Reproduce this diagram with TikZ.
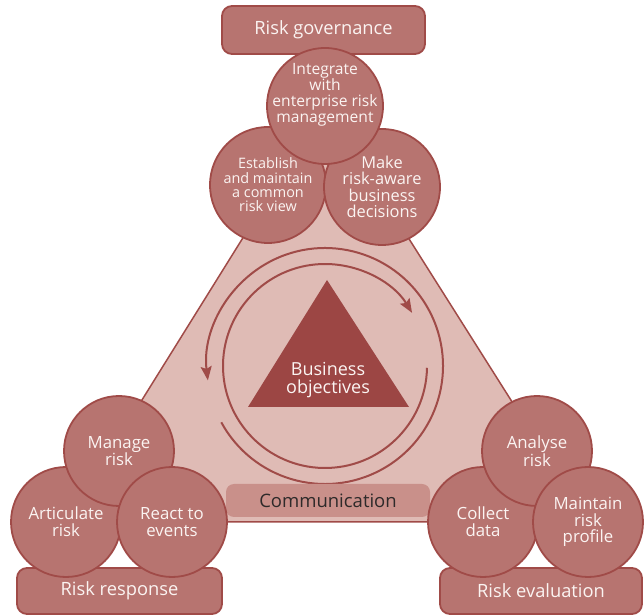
\documentclass[tikz,border=0pt]{standalone}
\usepackage{fontspec}
\setmainfont{Open Sans}
\usetikzlibrary{arrows.meta}
\definecolor{RkEdge}{HTML}{A04B48}
\definecolor{RkBubble}{HTML}{B77470}
\definecolor{RkField}{HTML}{DFBBB5}
\definecolor{RkCore}{HTML}{9C4644}
\definecolor{RkComm}{HTML}{C9908A}
\definecolor{RkText}{HTML}{FBF4F2}
\definecolor{RkDark}{HTML}{2E2A2A}

\tikzset{
  bubble/.style={circle,draw=RkEdge,fill=RkBubble,line width=1.8pt,inner sep=0pt,
    text=RkText,align=center},
  bigbubble/.style={bubble,minimum size=116pt},
  smallbubble/.style={bubble,minimum size=110pt,font=\fontsize{16.8}{16.7}\selectfont},
  stagebox/.style={draw=RkEdge,fill=RkBubble,line width=1.8pt,rounded corners=10pt,
    inner sep=0pt,minimum width=203pt,minimum height=46pt,text=RkText,
    font=\fontsize{18.3}{20}\selectfont},
  loopline/.style={draw=RkEdge,line width=2pt,
    -{Stealth[length=14pt,width=11pt,inset=2.5pt]}}
}

\begin{document}
\begin{tikzpicture}[x=1pt,y=1pt]
\path[use as bounding box] (0,0) rectangle (644,615);
% centres of the bubbles
\coordinate (hub) at (325,249);
\coordinate (pInteg) at (325,509);
\coordinate (pEstab) at (268,430);
\coordinate (pMake) at (382,430);
\coordinate (pManage) at (119,164);
\coordinate (pArtic) at (66,93);
\coordinate (pReact) at (172,93);
\coordinate (pAnalyse) at (537,164);
\coordinate (pCollect) at (483,93);
\coordinate (pMaint) at (588,93);

% risk field
\draw[RkEdge,fill=RkField,line width=1.5pt,line join=round]
  (pInteg) -- (pArtic) -- (pMaint) -- cycle;

% loops round the objectives
\draw[loopline] ([shift={(208.5:118)}]hub) arc[start angle=208.5,end angle=547,radius=118];
\draw[loopline] ([shift={(-1:102)}]hub) arc[start angle=-1,end angle=-328.6,radius=102];

% business objectives
\fill[RkCore] (327,335) -- (248,208) -- (409,208) -- cycle;
\node[text=RkText,align=center,font=\fontsize{18}{18}\selectfont] (objtxt) at (328,235)
  {Business\\objectives};

% communication
\node[fill=RkComm,rounded corners=8pt,minimum width=204pt,minimum height=33pt,inner sep=0pt,
  text=RkDark,font=\fontsize{18.5}{20}\selectfont] (comm) at (328,114.5) {Communication};

% domains
\node[stagebox,minimum height=48pt] (gov) at (323.5,585) {Risk governance};
\node[stagebox,minimum width=205pt] (resp) at (119.5,24) {Risk response};
\node[stagebox,minimum width=202pt] (eval) at (541,24) {Risk evaluation};

% governance bubbles
\node[bigbubble,font=\fontsize{14.4}{14.4}\selectfont] (estab) at (pEstab)
  {Establish\\and maintain\\a common\\risk view};
\node[bigbubble,font=\fontsize{16.4}{16.4}\selectfont] (make) at ([yshift=-2pt]pMake)
  {Make\\risk-aware\\business\\decisions};
\node[bigbubble] (integ) at (pInteg) {};
\node[text=RkText,align=center,font=\fontsize{15.6}{16}\selectfont] (integtxt)
  at ([yshift=11pt]integ.center) {Integrate\\with\\enterprise risk\\management};

% response bubbles
\node[smallbubble] (artic) at (pArtic) {Articulate\\risk};
\node[smallbubble] (manage) at (pManage) {Manage\\risk};
\node[smallbubble] (react) at (pReact) {React to\\events};

% evaluation bubbles
\node[smallbubble] (collect) at (pCollect) {Collect\\data};
\node[smallbubble] (analyse) at (pAnalyse) {Analyse\\risk};
\node[smallbubble] (maint) at (pMaint) {Maintain\\risk\\profile};
\end{tikzpicture}
\end{document}
